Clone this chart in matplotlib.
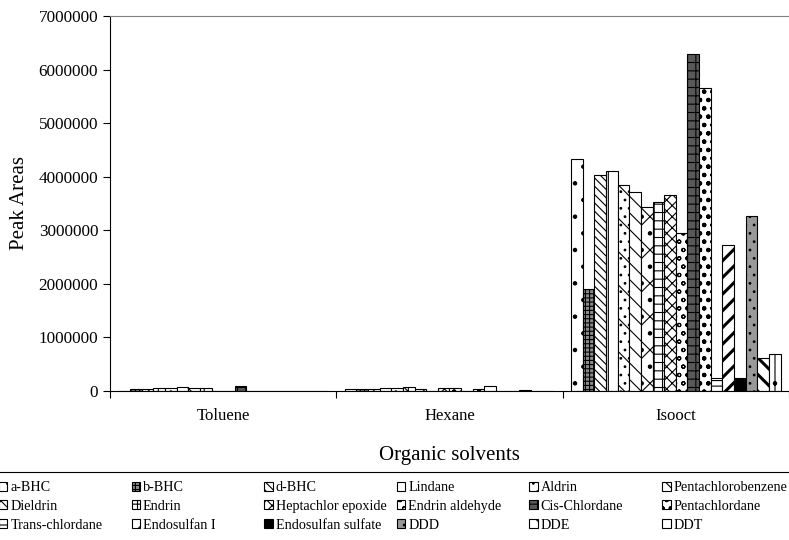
import numpy as np
import matplotlib
matplotlib.use('Agg')
import matplotlib.pyplot as plt
from matplotlib.lines import Line2D

plt.rcParams['font.family'] = ['Liberation Serif', 'DejaVu Serif']
plt.rcParams['hatch.linewidth'] = 0.8

solvents = ['Toluene', 'Hexane', 'Isooct']
compounds = ['a-BHC', 'b-BHC', 'd-BHC', 'Lindane', 'Aldrin', 'Pentachlorobenzene',
             'Dieldrin', 'Endrin', 'Heptachlor epoxide', 'Endrin aldehyde',
             'Cis-Chlordane', 'Pentachlordane', 'Trans-chlordane', 'Endosulfan I',
             'Endosulfan sulfate', 'DDD', 'DDE', 'DDT']

# peak areas per compound in each solvent
toluene = [8000, 30000, 30000, 55000, 50000, 70000, 55000, 50000, 8000, 8000,
           100000, 6000, 8000, 8000, 8000, 0, 0, 0]
hexane = [35000, 30000, 30000, 55000, 55000, 80000, 35000, 6000, 50000, 50000,
          3000, 35000, 85000, 3000, 3000, 10000, 0, 0]
isooct = [4330000, 1900000, 4030000, 4100000, 3840000, 3710000, 3430000, 3530000,
          3650000, 2950000, 6290000, 5650000, 240000, 2720000, 240000, 3260000,
          610000, 700000]

# (facecolor, hatch, hatch linewidth) for each compound
styles = [('white', '.', 0.8), ('0.55', '++++', 0.8), ('white', '\\\\\\\\', 0.8),
          ('white', '|', 0.8), ('white', '\\..', 0.8), ('white', '\\\\|', 0.8),
          ('white', 'x.', 0.8), ('white', '++', 0.8), ('white', 'xxx', 0.8),
          ('white', 'oo', 0.8), ('0.35', '++', 0.8), ('white', 'oo..', 0.8),
          ('white', '---', 0.8), ('white', '//', 2.2), ('black', '', 0.8),
          ('0.6', '..', 0.8), ('white', '\\\\', 2.2), ('white', '|.', 0.8)]

fig = plt.figure(figsize=(7.89, 5.40), dpi=100)
ax = fig.add_axes([110/789, 149/540, 1 - 110/789, 375/540])

data = np.array([toluene, hexane, isooct])
n = len(compounds)
group_w = 0.927
bw = group_w / n
xc = np.arange(len(solvents))
handles = []
for i, name in enumerate(compounds):
    fc, h, hlw = styles[i]
    with plt.rc_context({'hatch.linewidth': hlw}):
        bars = ax.bar(xc - group_w/2 + bw*(i + 0.5), data[:, i], width=bw, color=fc,
                      edgecolor='black', hatch=h, linewidth=0.8, label=name)
    handles.append(bars)

ax.set_xlim(-0.5, 2.5)
ax.set_ylim(0, 7000000)
ax.set_yticks(np.arange(0, 7000001, 1000000))
ax.set_yticklabels([str(v) for v in range(0, 7000001, 1000000)], fontsize=12.3)
ax.set_xticks([-0.5, 0.5, 1.5, 2.5])
ax.set_xticklabels([])
ax.set_xticks(xc, minor=True)
ax.set_xticklabels(solvents, minor=True, fontsize=12)
ax.tick_params(axis='x', which='minor', length=0, pad=12)
ax.tick_params(axis='both', which='major', length=5, width=0.8, direction='out')
ax.spines['right'].set_visible(False)
ax.spines['top'].set_color('0.5')
ax.set_ylabel('Peak Areas', fontsize=15, labelpad=7)
ax.set_xlabel('Organic solvents', fontsize=15, labelpad=16)

# legend: 6 columns, filled row by row
fig.add_artist(Line2D([0, 1], [(540-472)/540]*2, transform=fig.transFigure,
                      color='black', linewidth=0.8))
for c in range(6):
    idx = [c, c + 6, c + 12]
    fig.legend([handles[k] for k in idx], [compounds[k] for k in idx],
               loc='upper left', bbox_to_anchor=((c*132.6 - 1)/789, (540-481)/540),
               frameon=False, fontsize=10.2, handlelength=0.6, handleheight=0.6,
               handletextpad=0.2, borderpad=0, borderaxespad=0, labelspacing=0.42)

fig.savefig('out.png', dpi=100)
